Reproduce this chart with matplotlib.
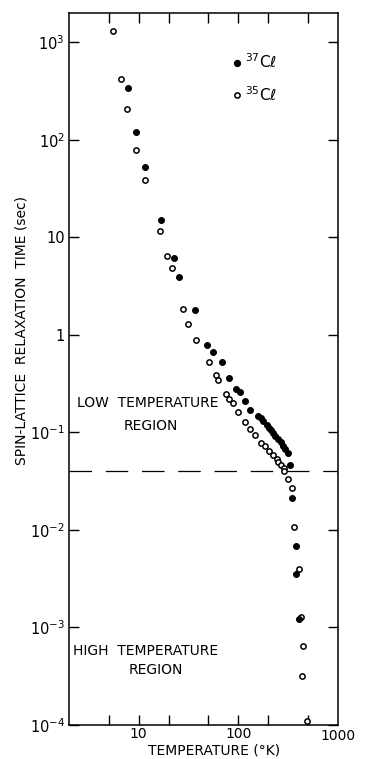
import matplotlib
matplotlib.use("Agg")
import matplotlib.pyplot as plt
import matplotlib.ticker as ticker
from matplotlib.lines import Line2D

plt.rcParams["font.family"] = "DejaVu Sans"
plt.rcParams["mathtext.default"] = "regular"

# 37Cl (filled) - temperature (K), relaxation time (sec)
t37 = [7.9, 9.5, 11.5, 16.6, 22.5, 25.5, 37, 48, 56, 69, 81, 95, 105, 118, 131,
       158, 168, 178, 193, 204, 213, 224, 236, 251, 265, 282, 297, 316,
       331, 347, 380, 378, 407]
tau37 = [337, 119, 53, 15.2, 6.2, 3.9, 1.8, 0.79, 0.67, 0.52, 0.36, 0.28, 0.26, 0.21, 0.17,
         0.148, 0.140, 0.131, 0.12, 0.111, 0.105, 0.098, 0.092, 0.085, 0.079, 0.073, 0.068, 0.061,
         0.046, 0.021, 0.0069, 0.00355, 0.00122]

# 35Cl (open)
t35 = [5.5, 6.6, 7.6, 9.3, 11.6, 16.3, 19.4, 21.5, 28, 31.5, 38, 51, 60, 63, 76, 81, 89,
       100, 118, 131, 148, 170, 186, 204, 224, 245, 251, 269, 288, 288, 316, 347, 363,
       407, 427, 447, 437, 490]
tau35 = [1300, 417, 205, 78, 39, 11.5, 6.5, 4.8, 1.86, 1.3, 0.89, 0.52, 0.39, 0.34, 0.25, 0.22, 0.20,
         0.163, 0.128, 0.109, 0.094, 0.078, 0.072, 0.064, 0.059, 0.053, 0.050, 0.046, 0.043, 0.040,
         0.033, 0.027, 0.0107, 0.0040, 0.00128, 0.00065, 0.00032, 0.00011]

boundary_tau = 0.04

x_ticks = [5, 10, 20, 50, 100, 200, 500]
y_ticks = [1e-4, 1e-3, 1e-2, 1e-1, 1, 10, 1e2, 1e3]
y_labels = ["$10^{-4}$", "$10^{-3}$", "$10^{-2}$", "$10^{-1}$", "1", "10", "$10^{2}$", "$10^{3}$"]

fig = plt.figure(figsize=(3.65, 7.59), dpi=100)
ax = fig.add_axes([0.189, 0.045, 0.737, 0.938])

ax.set_xscale("log")
ax.set_yscale("log")
ax.set_xlim(2, 1000)
ax.set_ylim(1e-4, 2000)

ax.plot(t35, tau35, "o", ms=3.8, mfc="white", mec="black", mew=1.1, ls="none", clip_on=False, zorder=3)
ax.plot(t37, tau37, "o", ms=4.2, mfc="black", mec="black", mew=0.8, ls="none", clip_on=False, zorder=3)

ax.axhline(boundary_tau, color="black", lw=0.9, dashes=(18, 11))

# ticks
ax.xaxis.set_major_locator(ticker.FixedLocator(x_ticks))
ax.xaxis.set_minor_locator(ticker.NullLocator())
ax.yaxis.set_major_locator(ticker.FixedLocator(y_ticks))
ax.yaxis.set_minor_locator(ticker.NullLocator())
ax.set_yticklabels(y_labels)
ax.set_xticklabels(["", "10", "", "", "100", "", ""])
ax.tick_params(which="both", direction="in", length=7.5, width=1.0,
               top=True, right=True, labelsize=10.5, pad=3)
ax.tick_params(axis="x", pad=1.5, labelsize=10)
# 1000 label at right edge
ax.text(1000, -0.006, "1000", transform=ax.get_xaxis_transform(),
        ha="center", va="top", fontsize=10)

for s in ax.spines.values():
    s.set_linewidth(1.1)

# region labels
ax.text(0.03, 0.452, "LOW  TEMPERATURE", transform=ax.transAxes, fontsize=10, va="center")
ax.text(0.305, 0.42, "REGION", transform=ax.transAxes, fontsize=10, va="center", ha="center")
ax.text(0.015, 0.104, "HIGH  TEMPERATURE", transform=ax.transAxes, fontsize=10, va="center")
ax.text(0.323, 0.077, "REGION", transform=ax.transAxes, fontsize=10, va="center", ha="center")

# legend
handles = [
    Line2D([], [], marker="o", ls="none", ms=4.2, mfc="black", mec="black"),
    Line2D([], [], marker="o", ls="none", ms=3.8, mfc="white", mec="black", mew=1.1),
]
ax.legend(handles, ["$^{37}$Cℓ", "$^{35}$Cℓ"], loc="upper left", bbox_to_anchor=(0.58, 0.955),
          frameon=False, handlelength=0.6, handletextpad=0.2, labelspacing=0.9,
          fontsize=11, borderpad=0)

# axis labels
fig.text(0.06, 0.564, "SPIN-LATTICE  RELAXATION  TIME (sec)", rotation=90,
         ha="center", va="center", fontsize=10)
fig.text(0.586, 0.002, "TEMPERATURE (°K)", ha="center", va="bottom", fontsize=10)

fig.savefig("out.png", dpi=100, facecolor="white")
